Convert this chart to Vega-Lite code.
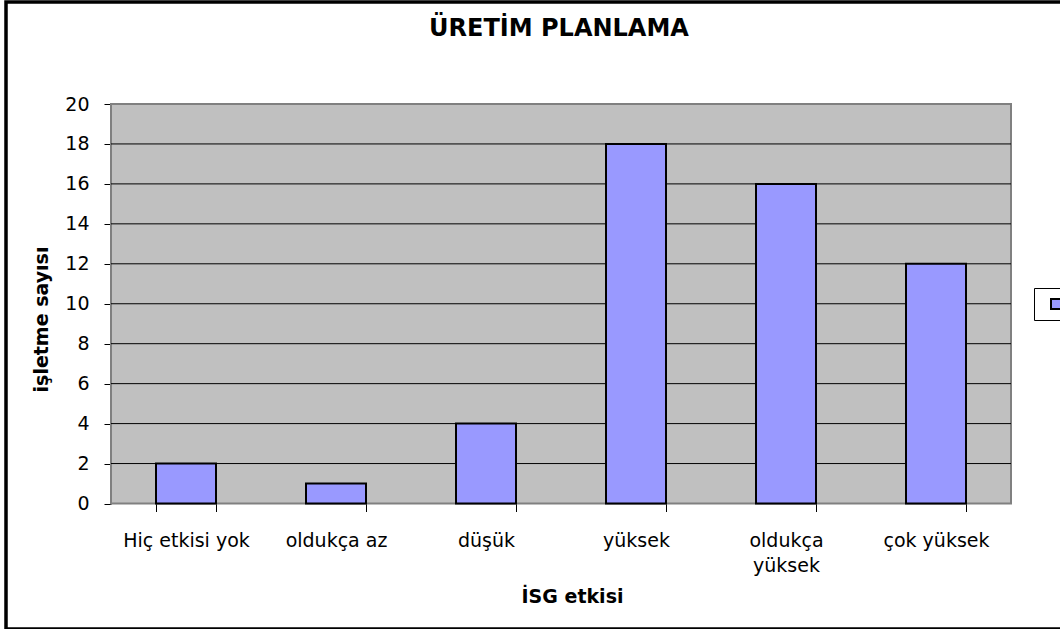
{
  "$schema": "https://vega.github.io/schema/vega-lite/v6.json",
  "width": 1060,
  "height": 627,
  "autosize": {"type": "none"},
  "padding": {"left": 6, "top": 2, "right": 0, "bottom": 0},
  "background": "white",
  "config": {
    "font": "DejaVu Sans",
    "view": {"stroke": "black", "strokeWidth": 3.5},
    "axis": {"labelFont": "DejaVu Sans", "titleFont": "DejaVu Sans"}
  },
  "title": {
    "text": "ÜRETİM PLANLAMA",
    "font": "DejaVu Sans",
    "fontSize": 24,
    "fontWeight": "bold",
    "color": "black",
    "anchor": "middle",
    "baseline": "alphabetic",
    "offset": 0,
    "dx": 23,
    "dy": 58
  },
  "resolve": {"scale": {"x": "independent"}, "axis": {"x": "independent"}},
  "layer": [
    {
      "data": {"values": [{}]},
      "mark": {"type": "rect", "fill": "#C0C0C0", "stroke": "#808080", "strokeWidth": 2},
      "encoding": {
        "x": {"datum": 0, "type": "quantitative", "scale": {"domain": [0, 1], "range": [105, 1005], "nice": false, "zero": false}, "axis": null},
        "x2": {"datum": 1},
        "y": {"datum": 0, "type": "quantitative", "scale": {"domain": [0, 20], "range": [501.5, 102], "nice": false},
          "axis": {"orient": "left", "offset": -105, "values": [0, 2, 4, 6, 8, 10, 12, 14, 16, 18, 20], "grid": false, "domain": false, "tickSize": 7, "tickColor": "black", "tickWidth": 1, "labelFontSize": 19, "labelColor": "black", "labelPadding": 15, "title": "işletme sayısı", "titleFontSize": 19, "titleFontWeight": "bold", "titleColor": "black", "titlePadding": 13, "titleY": 317}},
        "y2": {"datum": 20}
      }
    },
    {
      "data": {"values": [{"g": 2}, {"g": 4}, {"g": 6}, {"g": 8}, {"g": 10}, {"g": 12}, {"g": 14}, {"g": 16}, {"g": 18}]},
      "mark": {"type": "rule", "color": "black", "strokeWidth": 1},
      "encoding": {
        "x": {"datum": 0, "type": "quantitative", "scale": {"domain": [0, 1], "range": [105, 1005], "nice": false, "zero": false}, "axis": null},
        "x2": {"datum": 1},
        "y": {"field": "g", "type": "quantitative", "scale": {"domain": [0, 20], "range": [501.5, 102], "nice": false},
          "axis": {"orient": "left", "offset": -105, "values": [0, 2, 4, 6, 8, 10, 12, 14, 16, 18, 20], "grid": false, "domain": false, "tickSize": 7, "tickColor": "black", "tickWidth": 1, "labelFontSize": 19, "labelColor": "black", "labelPadding": 15, "title": "işletme sayısı", "titleFontSize": 19, "titleFontWeight": "bold", "titleColor": "black", "titlePadding": 13, "titleY": 317}}
      }
    },
    {
      "data": {"values": [
        {"etki": "Hiç etkisi yok", "sayi": 2},
        {"etki": "oldukça az", "sayi": 1},
        {"etki": "düşük", "sayi": 4},
        {"etki": "yüksek", "sayi": 18},
        {"etki": "oldukça yüksek", "sayi": 16},
        {"etki": "çok yüksek", "sayi": 12}
      ]},
      "mark": {"type": "bar", "stroke": "black", "strokeWidth": 2},
      "encoding": {
        "x": {
          "field": "etki",
          "type": "nominal",
          "sort": null,
          "scale": {"type": "band", "range": [105, 1005], "paddingInner": 0.6, "paddingOuter": 0.3},
          "axis": {
            "orient": "bottom",
            "offset": -125.5,
            "domain": false,
            "tickBand": "extent",
            "tickSize": 8,
            "tickColor": "black",
            "tickWidth": 1,
            "labelAngle": 0,
            "labelFontSize": 19,
            "labelColor": "black",
            "labelPadding": 20,
            "labelLineHeight": 25,
            "labelExpr": "datum.label == 'oldukça yüksek' ? ['oldukça', 'yüksek'] : datum.label",
            "title": "İSG etkisi",
            "titleFontSize": 19,
            "titleFontWeight": "bold",
            "titleColor": "black",
            "titlePadding": 12,
            "titleX": 566
          }
        },
        "y": {
          "field": "sayi",
          "type": "quantitative",
          "scale": {"domain": [0, 20], "range": [501.5, 102], "nice": false},
          "axis": {"orient": "left", "offset": -105, "values": [0, 2, 4, 6, 8, 10, 12, 14, 16, 18, 20], "grid": false, "domain": false, "tickSize": 7, "tickColor": "black", "tickWidth": 1, "labelFontSize": 19, "labelColor": "black", "labelPadding": 15, "title": "işletme sayısı", "titleFontSize": 19, "titleFontWeight": "bold", "titleColor": "black", "titlePadding": 13, "titleY": 317}
        },
        "color": {
          "datum": "Seri1",
          "scale": {"range": ["#9999FF"]},
          "legend": {
            "orient": "none",
            "legendX": 1028,
            "legendY": 286,
            "title": null,
            "strokeColor": "black",
            "fillColor": "white",
            "padding": 7,
            "symbolType": "square",
            "symbolSize": 100,
            "symbolStrokeColor": "black",
            "symbolStrokeWidth": 2,
            "symbolOffset": 6,
            "labelFontSize": 18,
            "labelColor": "black"
          }
        }
      }
    }
  ]
}
